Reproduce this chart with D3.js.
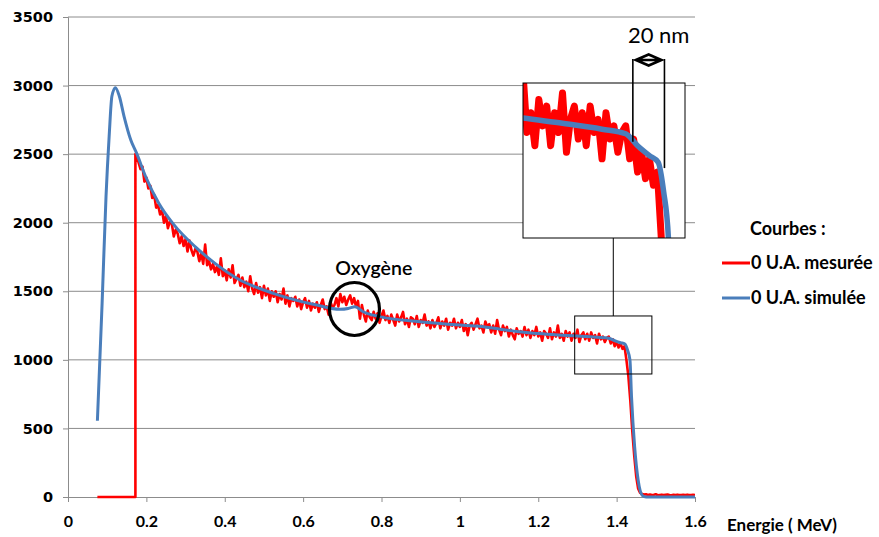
<!DOCTYPE html>
<html>
<head>
<meta charset="utf-8">
<script src="https://cdn.jsdelivr.net/npm/d3@7"></script>
<style>
  body { margin: 0; background: #fff; }
  svg text { fill: #000; }
  .ylab { font-family: "DejaVu Sans", Verdana, sans-serif; font-weight: bold; font-size: 14.5px; }
  .xlab { font-family: Lato, Calibri, sans-serif; font-weight: bold; font-size: 16px; }
  .leg { font-family: Lato, Calibri, sans-serif; font-weight: bold; font-size: 18px; }
</style>
</head>
<body>
<div id="vis"></div>
<script>
// tick labels
const xTicks = [0, 0.2, 0.4, 0.6, 0.8, 1, 1.2, 1.4, 1.6];
const yTicks = [0, 500, 1000, 1500, 2000, 2500, 3000, 3500];

// simulated curve (blue)
const simE = [0.075, 0.087, 0.097, 0.105, 0.112, 0.121, 0.131, 0.143, 0.160, 0.175, 0.198, 0.232, 0.269,
  0.325, 0.376, 0.439, 0.524, 0.634, 0.694, 0.715, 0.732, 0.753, 0.796, 0.898, 1.0, 1.05, 1.1, 1.15,
  1.2, 1.25, 1.3, 1.35, 1.38, 1.395, 1.41, 1.421, 1.428, 1.434, 1.438, 1.446, 1.455, 1.466, 1.475, 1.6];
const simY = [556, 1410, 2190, 2629, 2922, 2985, 2922, 2776, 2605, 2507, 2337, 2141, 1990,
  1824, 1702, 1582, 1485, 1400, 1369, 1375, 1388, 1351, 1315, 1278, 1254, 1245, 1225, 1205,
  1192, 1182, 1174, 1165, 1158, 1140, 1125, 1115, 1070, 1000, 731, 365, 122, 10, 0, 0];

// measured curve (red): flat part before the edge, then one value every 0.005 MeV from 0.18
const measHeadE = [0.075, 0.172, 0.172];
const measHeadY = [0, 0, 2500];
const measStart = 0.18, measStep = 0.005;
const measY = [
  2440, 2390, 2410, 2300, 2330, 2250, 2270, 2180, 2200, 2110,
  2130, 2060, 2090, 2000, 2050, 1960, 2010, 1990, 1900, 1950,
  1920, 1850, 1900, 1830, 1880, 1790, 1870, 1800, 1760, 1810,
  1790, 1720, 1780, 1700, 1840, 1690, 1720, 1660, 1700, 1640,
  1680, 1620, 1740, 1610, 1650, 1580, 1660, 1600, 1690, 1560,
  1590, 1620, 1540, 1600, 1530, 1570, 1500, 1610, 1520, 1480,
  1560, 1490, 1530, 1450, 1540, 1470, 1520, 1430, 1500, 1460,
  1500, 1420, 1480, 1440, 1520, 1410, 1470, 1390, 1450, 1430,
  1460, 1390, 1440, 1370, 1420, 1450, 1380, 1430, 1360, 1410,
  1380, 1420, 1350, 1400, 1440, 1370, 1390, 1330, 1420, 1380,
  1400, 1450, 1390, 1480, 1420, 1460, 1400, 1440, 1470, 1410,
  1450, 1390, 1430, 1300, 1400, 1330, 1280, 1360, 1310, 1290,
  1350, 1300, 1340, 1270, 1320, 1360, 1290, 1320, 1270, 1330,
  1290, 1250, 1330, 1280, 1310, 1350, 1260, 1300, 1240, 1310,
  1300, 1260, 1320, 1240, 1290, 1270, 1330, 1250, 1280, 1230,
  1290, 1240, 1270, 1310, 1230, 1280, 1250, 1300, 1220, 1270,
  1250, 1300, 1230, 1270, 1240, 1290, 1210, 1260, 1180, 1250,
  1270, 1220, 1260, 1300, 1230, 1250, 1200, 1280, 1240, 1260,
  1200, 1250, 1190, 1290, 1220, 1180, 1250, 1210, 1240, 1170,
  1220, 1180, 1150, 1230, 1190, 1210, 1170, 1240, 1180, 1220,
  1160, 1210, 1180, 1240, 1170, 1200, 1140, 1210, 1190, 1160,
  1230, 1150, 1200, 1170, 1250, 1160, 1190, 1140, 1210, 1170,
  1200, 1140, 1190, 1160, 1220, 1130, 1180, 1200, 1150, 1190,
  1140, 1200, 1160, 1180, 1120, 1190, 1150, 1170, 1130, 1160,
  1170, 1120, 1150, 1100, 1130, 1090, 1120, 1080, 1100, 1000,
  880, 700, 480, 300, 150, 60, 30, 22, 18, 20,
  15, 18, 14, 16, 20, 13, 15, 17, 14, 16,
  18, 15, 13, 16, 14, 17, 15, 14, 16, 15,
  17, 14, 15, 16, 15];

const seriesNames = ["0 U.A. mesurée", "0 U.A. simulée"];
const seriesColors = ["#ff0000", "#4a7ebb"];

// build point lists
const simData = simE.map((e, i) => ({ x: e, y: simY[i] }));
const measData = measHeadE.map((e, i) => ({ x: e, y: measHeadY[i] }))
  .concat(measY.map((v, i) => ({ x: measStart + i * measStep, y: v })));

const margin = { top: 17, left: 68 };
const width = 627, height = 480;

const svg = d3.select("#vis").append("svg")
  .attr("width", 879).attr("height", 537);

const g = svg.append("g").attr("transform", `translate(${margin.left},${margin.top})`);

const x = d3.scaleLinear().domain([0, 1.6]).range([0, width]);
const y = d3.scaleLinear().domain([0, 3500]).range([height, 0]);

// horizontal grid
g.append("g").selectAll("line").data(yTicks.filter(d => d > 0)).join("line")
  .attr("x1", 0).attr("x2", width)
  .attr("y1", d => y(d)).attr("y2", d => y(d))
  .attr("stroke", "#8c8c8c").attr("stroke-width", 1);

// axes
const yAxis = g.append("g")
  .call(d3.axisLeft(y).tickValues(yTicks).tickSize(5).tickPadding(10).tickFormat(d3.format("d")));
yAxis.selectAll("line, path").attr("stroke", "#8c8c8c");
yAxis.selectAll("text").attr("class", "ylab").attr("fill", "#000");

const xAxis = g.append("g").attr("transform", `translate(0,${height})`)
  .call(d3.axisBottom(x).tickValues(xTicks).tickSize(5).tickPadding(14).tickFormat(d => d));
xAxis.selectAll("line, path").attr("stroke", "#8c8c8c");
xAxis.selectAll("text").attr("class", "xlab").attr("fill", "#000");

g.append("text").attr("class", "xlab").style("font-size", "17px")
  .attr("x", width + 32).attr("y", height + 34)
  .text("Energie ( MeV)");

const line = d3.line().x(d => x(d.x)).y(d => y(d.y));
const smooth = d3.line().x(d => x(d.x)).y(d => y(d.y)).curve(d3.curveMonotoneX);

g.append("path").datum(measData).attr("d", line)
  .attr("fill", "none").attr("stroke", seriesColors[0]).attr("stroke-width", 2.6)
  .attr("stroke-linejoin", "round");
g.append("path").datum(simData).attr("d", smooth)
  .attr("fill", "none").attr("stroke", seriesColors[1]).attr("stroke-width", 3)
  .attr("stroke-linejoin", "round");

// Oxygène annotation
g.append("ellipse")
  .attr("cx", x(0.731)).attr("cy", y(1371)).attr("rx", 25).attr("ry", 26.5)
  .attr("fill", "none").attr("stroke", "#000").attr("stroke-width", 3.2);
g.append("text").attr("x", x(0.682)).attr("y", y(1620))
  .style("font-family", "Lato, Calibri, sans-serif").style("font-size", "19.5px").style("font-weight", "600")
  .text("Oxygène");

// small zoom box
const box = { e0: 1.293, e1: 1.49, v0: 897, v1: 1320 };
g.append("rect")
  .attr("x", x(box.e0)).attr("y", y(box.v1))
  .attr("width", x(box.e1) - x(box.e0)).attr("height", y(box.v0) - y(box.v1))
  .attr("fill", "none").attr("stroke", "#000").attr("stroke-width", 1);

// magnified inset
const inset = { left: 523, top: 83, w: 162, h: 155 };
const ix = d3.scaleLinear().domain([1.25, 1.455]).range([inset.left, inset.left + inset.w]);
const iy = d3.scaleLinear().domain([1000, 1235]).range([inset.top + inset.h, inset.top]);

const boxMid = margin.left + (x(box.e0) + x(box.e1)) / 2;
svg.append("line")
  .attr("x1", boxMid).attr("x2", boxMid)
  .attr("y1", inset.top + inset.h).attr("y2", margin.top + y(box.v1))
  .attr("stroke", "#000").attr("stroke-width", 1);

svg.append("clipPath").attr("id", "clip")
  .append("rect").attr("x", inset.left).attr("y", inset.top).attr("width", inset.w).attr("height", inset.h);
svg.append("rect").attr("x", inset.left).attr("y", inset.top).attr("width", inset.w).attr("height", inset.h)
  .attr("fill", "#fff");
const ig = svg.append("g").attr("clip-path", "url(#clip)");
ig.append("path").datum(measData)
  .attr("d", d3.line().x(d => ix(d.x)).y(d => iy(d.y)))
  .attr("fill", "none").attr("stroke", seriesColors[0]).attr("stroke-width", 7).attr("stroke-linejoin", "round");
ig.append("path").datum(simData)
  .attr("d", d3.line().x(d => ix(d.x)).y(d => iy(d.y)).curve(d3.curveMonotoneX))
  .attr("fill", "none").attr("stroke", seriesColors[1]).attr("stroke-width", 5.5).attr("stroke-linejoin", "round");
svg.append("rect").attr("x", inset.left).attr("y", inset.top).attr("width", inset.w).attr("height", inset.h)
  .attr("fill", "none").attr("stroke", "#000").attr("stroke-width", 1);

// 20 nm marker
const m1 = ix(1.389), m2 = ix(1.429);
svg.append("line").attr("x1", m1).attr("x2", m1).attr("y1", 59).attr("y2", iy(1146))
  .attr("stroke", "#000").attr("stroke-width", 1.6);
svg.append("line").attr("x1", m2).attr("x2", m2).attr("y1", 59).attr("y2", iy(1106))
  .attr("stroke", "#000").attr("stroke-width", 1.6);
const mid = (m1 + m2) / 2;
svg.append("path")
  .attr("d", `M${m1 + 3},60 L${mid},54.5 L${m2 - 3},60 L${mid},65.5 Z M${m1 + 3},60 L${m2 - 3},60`)
  .attr("fill", "none").attr("stroke", "#000").attr("stroke-width", 2.6).attr("stroke-linejoin", "miter");
svg.append("text").attr("x", mid + 10).attr("y", 43).attr("text-anchor", "middle")
  .style("font-family", "Lato, Calibri, sans-serif").style("font-size", "22px")
  .text("20 nm");

// legend
const leg = svg.append("g");
leg.append("text").attr("class", "leg").attr("x", 750).attr("y", 235).text("Courbes :");
seriesNames.forEach((name, i) => {
  const yy = 263 + i * 35;
  leg.append("line").attr("x1", 722).attr("x2", 750).attr("y1", yy).attr("y2", yy)
    .attr("stroke", seriesColors[i]).attr("stroke-width", 3);
  leg.append("text").attr("class", "leg").attr("x", 751).attr("y", yy + 6).text(name);
});
</script>
</body>
</html>
